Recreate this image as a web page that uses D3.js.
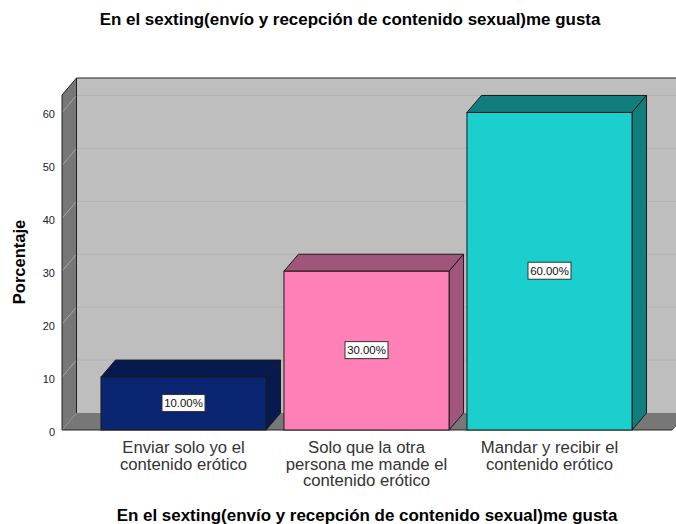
<!DOCTYPE html>
<html>
<head>
<meta charset="utf-8">
<script src="https://cdn.jsdelivr.net/npm/d3@7"></script>
<style>
html, body { margin: 0; padding: 0; background: #fff; overflow: hidden; }
text { font-family: "Liberation Sans", Arial, sans-serif; }
</style>
</head>
<body>
<div id="chart"></div>
<script>
const categories = [
    ['Enviar solo yo el', 'contenido erótico'],
    ['Solo que la otra', 'persona me mande el', 'contenido erótico'],
    ['Mandar y recibir el', 'contenido erótico']
];
const values = [10, 30, 60];
const valueLabels = ['10.00%', '30.00%', '60.00%'];
const yTicks = [0, 10, 20, 30, 40, 50, 60];
const barFront = ['#0a2673', '#ff80b6', '#1ccfcf'];
const barTop = ['#071a4f', '#a0557a', '#127d7d'];
const titleText = 'En el sexting(envío y recepción de contenido sexual)me gusta';
const yTitle = 'Porcentaje';

const width = 676, height = 524;
const depth = { x: 14.5, y: -17 };
const plot = { left: 62, right: 672, bottom: 430 };

const yScale = d3.scaleLinear().domain([0, 63.3]).range([plot.bottom, 95]);
const xScale = d3.scaleBand().domain(d3.range(categories.length))
    .range([92, 641]).paddingInner(0.098).paddingOuter(0.049);

const svg = d3.select('#chart').append('svg')
    .attr('width', width).attr('height', height)
    .style('display', 'block');

const poly = pts => pts.map(p => p.join(',')).join(' ');
const top_y = yScale.range()[1];

function drawWalls() {
    const g = svg.append('g');
    // back wall
    g.append('rect')
        .attr('x', plot.left + depth.x).attr('y', top_y + depth.y)
        .attr('width', width).attr('height', plot.bottom - top_y)
        .attr('fill', '#bebebe');
    // floor
    g.append('polygon')
        .attr('points', poly([
            [plot.left, plot.bottom],
            [plot.left + depth.x, plot.bottom + depth.y],
            [plot.right + depth.x, plot.bottom + depth.y],
            [plot.right, plot.bottom]
        ]))
        .attr('fill', '#777');
    // left wall
    g.append('polygon')
        .attr('points', poly([
            [plot.left, plot.bottom],
            [plot.left, top_y],
            [plot.left + depth.x, top_y + depth.y],
            [plot.left + depth.x, plot.bottom + depth.y]
        ]))
        .attr('fill', '#777');

    // gridlines
    const grid = g.append('g').selectAll('g').data(yTicks.filter(d => d > 0)).join('g');
    grid.append('line')
        .attr('x1', plot.left).attr('y1', d => yScale(d))
        .attr('x2', plot.left + depth.x).attr('y2', d => yScale(d) + depth.y)
        .attr('stroke', '#a6a6a6');
    grid.append('line')
        .attr('x1', plot.left + depth.x).attr('y1', d => yScale(d) + depth.y)
        .attr('x2', width).attr('y2', d => yScale(d) + depth.y)
        .attr('stroke', '#b2b2b2');

    // frame
    g.append('polyline')
        .attr('points', poly([
            [plot.left, plot.bottom],
            [plot.left, top_y],
            [plot.left + depth.x, top_y + depth.y],
            [width, top_y + depth.y]
        ]))
        .attr('fill', 'none').attr('stroke', '#222').attr('stroke-width', 1);
    g.append('line')
        .attr('x1', plot.left + depth.x).attr('y1', top_y + depth.y)
        .attr('x2', plot.left + depth.x).attr('y2', plot.bottom + depth.y)
        .attr('stroke', '#222');
    g.append('line')
        .attr('x1', plot.left).attr('y1', plot.bottom)
        .attr('x2', plot.right).attr('y2', plot.bottom)
        .attr('stroke', '#222');
    g.append('line')
        .attr('x1', plot.right).attr('y1', plot.bottom)
        .attr('x2', plot.right + depth.x).attr('y2', plot.bottom + depth.y)
        .attr('stroke', '#444');
}

function drawAxes() {
    const yAxis = svg.append('g')
        .attr('transform', 'translate(' + plot.left + ',1.5)')
        .call(d3.axisLeft(yScale).tickValues(yTicks).tickSize(0).tickPadding(7));
    yAxis.select('.domain').remove();
    yAxis.selectAll('text').attr('font-size', 11).attr('fill', '#222')
        .style('font-family', '"Liberation Sans", Arial, sans-serif');

    const xLabels = svg.append('g').selectAll('text').data(categories).join('text')
        .attr('text-anchor', 'middle')
        .attr('font-size', 16.7)
        .attr('fill', '#333');
    xLabels.selectAll('tspan').data((d, i) => d.map(t => ({ t, i }))).join('tspan')
        .attr('x', d => xScale(d.i) + xScale.bandwidth() / 2)
        .attr('y', (d, j) => 453 + j * 16.5)
        .text(d => d.t);
}

function drawBars() {
    const bars = svg.append('g').selectAll('g').data(values).join('g');
    const x0 = (d, i) => xScale(i);
    const x1 = (d, i) => xScale(i) + xScale.bandwidth();

    bars.append('polygon')
        .attr('points', (d, i) => poly([
            [x0(d, i), yScale(d)],
            [x0(d, i) + depth.x, yScale(d) + depth.y],
            [x1(d, i) + depth.x, yScale(d) + depth.y],
            [x1(d, i), yScale(d)]
        ]))
        .attr('fill', (d, i) => barTop[i]).attr('stroke', '#1a1a1a');
    bars.append('polygon')
        .attr('points', (d, i) => poly([
            [x1(d, i), yScale(d)],
            [x1(d, i) + depth.x, yScale(d) + depth.y],
            [x1(d, i) + depth.x, yScale(0) + depth.y],
            [x1(d, i), yScale(0)]
        ]))
        .attr('fill', (d, i) => barTop[i]).attr('stroke', '#1a1a1a');
    bars.append('rect')
        .attr('x', x0).attr('y', d => yScale(d))
        .attr('width', xScale.bandwidth())
        .attr('height', d => yScale(0) - yScale(d))
        .attr('fill', (d, i) => barFront[i]).attr('stroke', '#1a1a1a');

    // value labels
    const cx = (d, i) => xScale(i) + xScale.bandwidth() / 2;
    const cy = d => (yScale(0) + yScale(d)) / 2 - 1;
    bars.append('rect')
        .attr('x', (d, i) => cx(d, i) - 21.5).attr('y', d => cy(d) - 8)
        .attr('width', 43).attr('height', 17)
        .attr('fill', '#fff').attr('stroke', '#333');
    bars.append('text')
        .attr('x', cx).attr('y', d => cy(d) + 4.5)
        .attr('text-anchor', 'middle').attr('font-size', 11.4).attr('fill', '#111')
        .text((d, i) => valueLabels[i]);
}

function drawTitles() {
    svg.append('text').attr('x', 350).attr('y', 25)
        .attr('text-anchor', 'middle').attr('font-size', 16.95).attr('font-weight', 'bold')
        .attr('fill', '#000').text(titleText);
    svg.append('text').attr('x', 367).attr('y', 521)
        .attr('text-anchor', 'middle').attr('font-size', 16.95).attr('font-weight', 'bold')
        .attr('fill', '#000').text(titleText);
    svg.append('text')
        .attr('transform', 'translate(24.5,262) rotate(-90)')
        .attr('text-anchor', 'middle').attr('font-size', 16.5).attr('font-weight', 'bold')
        .attr('fill', '#000').text(yTitle);
}

drawWalls();
drawBars();
drawAxes();
drawTitles();
</script>
</body>
</html>
